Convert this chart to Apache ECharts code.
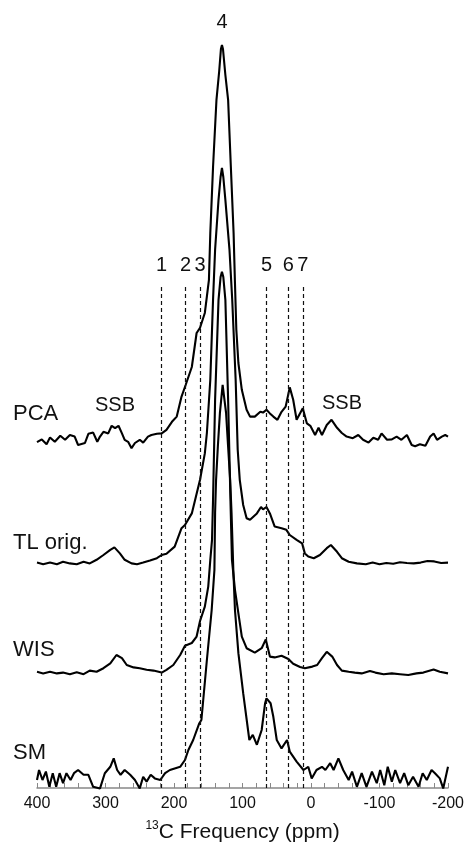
<!DOCTYPE html>
<html>
<head>
<meta charset="utf-8">
<script src="https://cdn.jsdelivr.net/npm/echarts@6/dist/echarts.min.js"></script>
<style>
html, body { margin: 0; padding: 0; background: #fff; }
#chart { width: 465px; height: 845px; }
</style>
</head>
<body>
<div id="chart"></div>
<script>
// spectra: [ppm, intensity], peak ~ 100
const pca = [[400,0.2],[393,0.9],[386,-0.3],[381,1.4],[374,0.3],[366,1.8],[359,0.8],[352,2.0],[345,1.6],[340,-0.5],[330,0],[325,2.3],[318,2.6],[312,0.3],[308,1.6],[303,2.8],[296,2.4],[291,4.3],[286,3.7],[281,4.3],[276,2.4],[272,0.8],[267,0.3],[262,-1.3],[257,0],[250,0.8],[245,0.1],[238,1.6],[233,2.0],[225,2.3],[218,2.4],[211,3.3],[203,5.3],[196,6.6],[189,11.6],[183,14.5],[174,19],[167,27.5],[162,28.8],[155,32.5],[149,40.8],[147,52.5],[143,69],[138,85.8],[134,93],[131.5,98.5],[130,99.5],[128.5,98.5],[125,92],[121,85.8],[117,69],[113,52.5],[111,40],[109,28.3],[106,20],[101,13.3],[94,8.3],[89,6.6],[82,6.6],[74,7.8],[70,7.6],[65,8.3],[60,7.4],[55,6.6],[49,5.8],[43,7.8],[37,9.1],[31,13.9],[26,10.8],[21,5.8],[12,8.7],[6,4.9],[1,4.3],[-6,2.0],[-11,3.8],[-16,2.0],[-23,4.5],[-30,5.8],[-38,3.8],[-45,2.5],[-52,1.6],[-61,1.2],[-69,2.0],[-76,0.8],[-84,0.1],[-91,1.3],[-98,0.8],[-103,2.4],[-111,0.8],[-118,0.9],[-125,1.6],[-132,0.8],[-140,2.0],[-147,-0.5],[-152,-0.8],[-159,-0.3],[-167,-0.7],[-174,1.6],[-179,2.4],[-184,0.8],[-191,1.6],[-196,2.0],[-200,1.6]]
const tlOrig = [[400,0.1],[391,-0.3],[381,0.1],[371,-0.3],[362,0.3],[352,-0.1],[342,-0.3],[332,0.3],[323,-0.1],[313,0.8],[303,2.0],[293,3.3],[287,3.9],[279,2.4],[272,0.8],[262,-0.1],[254,-0.3],[245,0.1],[235,0.6],[225,1.2],[218,2.0],[211,2.3],[199,4.1],[189,8.7],[184,9.5],[174,12.4],[162,20.8],[155,27.4],[152,32.5],[147,45.8],[143,65.8],[140,78.3],[135,90.8],[132,96.5],[130,98.8],[128,96.5],[125,90.8],[119,78.3],[115,65.8],[110,45.8],[107,28.3],[104,20.8],[99,14.5],[94,11.2],[89,10.8],[79,12.4],[73,14],[70,13.4],[65,14],[60,12.4],[53,9.1],[43,8.7],[36,8.3],[31,7],[21,5.8],[13,4.9],[9,2.4],[4,1.6],[-4,1.2],[-13,2.0],[-23,3.7],[-29,4.5],[-38,2.8],[-45,1.2],[-55,0.3],[-67,-0.1],[-80,-0.3],[-90,0.1],[-100,-0.3],[-110,0],[-120,-0.2],[-130,0.2],[-140,0],[-150,-0.1],[-160,0.1],[-170,0.5],[-180,0.4],[-190,0],[-200,0.1]]
const wis = [[400,0.3],[391,-0.1],[381,0.3],[371,-0.1],[362,0.1],[352,-0.3],[342,0.2],[332,-0.3],[323,0.6],[313,0.3],[303,1.2],[293,2.4],[284,4.5],[276,3.7],[269,2.0],[259,1.4],[250,1.2],[240,0.8],[230,0.6],[218,0.1],[211,0.8],[201,2.0],[191,4.5],[184,6.8],[174,7.5],[167,9.1],[162,13],[155,16.6],[150,21.6],[147,28.3],[144.5,33.3],[143,43.3],[140,68.3],[135,93.3],[132,99],[130,100.3],[128,99],[125,93.3],[121,68.3],[117.6,43.3],[115.4,28.3],[111,20.8],[106,14.9],[101,9.1],[94,6.2],[82,5.1],[72,6.2],[66,8.4],[60,4.1],[53,3.9],[43,4.3],[33,3.5],[26,2.3],[16,1.5],[9,1.2],[-2,1.6],[-9,2.0],[-16,3.7],[-23,5.3],[-31,4.1],[-38,2.0],[-45,0.6],[-55,0.3],[-64,0.1],[-74,-0.1],[-86,0.5],[-94,0.1],[-106,-0.3],[-118,-0.1],[-130,-0.3],[-142,-0.5],[-154,-0.1],[-164,0.1],[-179,0.9],[-188,0.3],[-200,-0.1]]
const sm = [[400,0],[397,2.5],[392,0],[387,2.1],[382,-1.7],[377,1.7],[372,-1.7],[367,1.7],[362,-0.8],[357,1.7],[351,0],[346,1.7],[340,2.5],[332,1.3],[325,1.3],[318,-1.7],[308,-2.1],[301,1.7],[293,3.3],[288,5.4],[283,2.5],[278,1.3],[272,2.5],[264,1.3],[257,0],[250,-2.1],[245,0.8],[240,-0.4],[234,1.3],[228,0.4],[220,0],[213,1.7],[206,2.5],[199,2.9],[191,3.3],[184,5],[179,7.5],[172,10],[163,14.2],[160,15],[152,30],[145,42.5],[141,52.5],[140,66.8],[138.6,75],[136,83.3],[133,91.7],[129,98.8],[124,91.8],[121,83.3],[118,75],[116,66.8],[113.4,52.5],[111,42.5],[106,31.7],[99,21.7],[90,10],[85,11.3],[79,8.8],[72,12.5],[67,19.2],[65,20.4],[59,19.2],[55,15.8],[50,10],[43,7.9],[35,10],[31,7.1],[21,4.6],[11,2.5],[4,3.3],[-1,0.4],[-8,2.5],[-16,3.3],[-21,2.5],[-28,4.2],[-33,2.5],[-40,5.4],[-47,2.5],[-55,0],[-60,2.1],[-67,-1.7],[-74,1.7],[-81,-1.7],[-89,2.1],[-96,-0.8],[-101,2.5],[-107,-1.3],[-112,3.3],[-118,-0.4],[-123,2.5],[-130,-0.8],[-136,1.7],[-142,-1.3],[-149,0.8],[-157,-1.7],[-163,1.7],[-169,0],[-176,2.5],[-181,1.7],[-188,0.4],[-193,-2.1],[-200,3.3]]

const names = ['PCA', 'TL orig.', 'WIS', 'SM']
const spectra = [pca, tlOrig, wis, sm]
const offsets = [86.25, 56.25, 28.75, 2]   // vertical stacking

// dashed reference lines (ppm) and their numbers
const refPpm = [218, 183, 162, 65, 33, 12]
const refNames = ['1', '2', '3', '5', '6', '7']
const mainPeak = 130  // label 4

const FONT = '"Liberation Sans", Arial, sans-serif'
const chart = echarts.init(document.getElementById('chart'), null, { renderer: 'canvas' })

const refLines = refPpm.map((p, i) => [
  { coord: [p, 0] },
  { coord: [p, 126], name: refNames[i] }
])

const series = spectra.map((s, i) => {
  const o = {
    name: names[i],
    type: 'line',
    data: s.map(d => [d[0], d[1] + offsets[i]]),
    showSymbol: false,
    clip: false,
    silent: true,
    z: 3,
    lineStyle: { color: '#000', width: 2.1 }
  }
  if (i == 0) {
    o.markLine = {
      silent: true,
      symbol: 'none',
      lineStyle: { color: '#111', width: 1.2, type: [4, 3] },
      label: {
        show: true, position: 'end', distance: 9,
        formatter: p => p.name,
        color: '#111', fontSize: 20, fontFamily: FONT
      },
      data: refLines
    }
    o.markPoint = {
      symbol: 'circle', symbolSize: 1,
      itemStyle: { color: 'transparent' },
      label: {
        show: true, position: 'top', distance: 12,
        formatter: '4', color: '#111', fontSize: 20, fontFamily: FONT
      },
      data: [{ coord: [mainPeak, 99.5 + offsets[0]] }]
    }
  }
  return o
})

const txt = (t, x, y, size) => ({
  type: 'text', x: x, y: y, silent: true,
  style: { text: t, font: size + 'px ' + FONT, fill: '#111', align: 'left', verticalAlign: 'middle' }
})

chart.setOption({
  animation: false,
  backgroundColor: '#fff',
  grid: { left: 37, right: 17, top: 16, bottom: 57, outerBoundsMode: 'none' },
  xAxis: {
    type: 'value',
    min: -200, max: 400, interval: 20,
    inverse: true,
    name: '{sup|13}{t|C Frequency (ppm)}',
    nameLocation: 'middle',
    nameGap: 32,
    nameTextStyle: {
      rich: {
        sup: { fontSize: 12, fontFamily: FONT, color: '#111', verticalAlign: 'top', lineHeight: 24 },
        t: { fontSize: 21, fontFamily: FONT, color: '#111', lineHeight: 24 }
      }
    },
    axisLine: { lineStyle: { color: '#888', width: 1.5 } },
    axisTick: { inside: true, length: 5, lineStyle: { color: '#888' } },
    splitLine: { show: false },
    axisLabel: {
      margin: 8, fontSize: 16, fontFamily: FONT, color: '#111',
      formatter: v => (v % 100 === 0 ? String(v) : '')
    }
  },
  yAxis: { type: 'value', min: 0, max: 193, show: false },
  graphic: [
    txt('PCA', 13, 414, 22),
    txt('TL orig.', 13, 543, 22),
    txt('WIS', 13, 650, 22),
    txt('SM', 13, 753, 22),
    txt('SSB', 95, 405, 20),
    txt('SSB', 322, 403, 20)
  ],
  series: series
})
</script>
</body>
</html>
